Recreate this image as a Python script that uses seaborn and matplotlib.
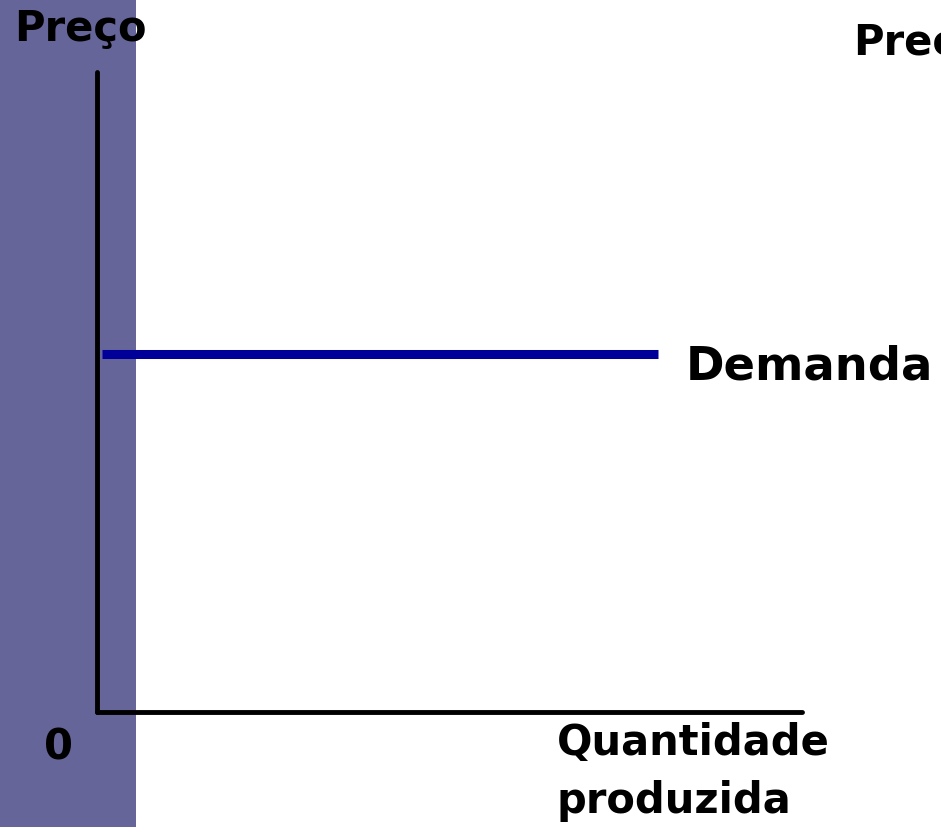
import matplotlib
matplotlib.use("Agg")
import matplotlib.pyplot as plt
from matplotlib.patches import Rectangle
import seaborn as sns
import pandas as pd

# demand curve: perfectly elastic (horizontal) at one price level
quantity = [0.07, 7.96]
price = [5.6, 5.6]
x_max, y_max = 10, 10

band_color = "#65659a"
demand_color = "#000099"

sns.set_theme(style="white")
plt.rcParams["font.family"] = ["DejaVu Sans"]

W, H = 941, 827
fig = plt.figure(figsize=(W / 100, H / 100), dpi=100)
fig.patch.set_facecolor("white")

# purple band on the left edge of the slide
fig.add_artist(Rectangle((0, 0), 136 / W, 1, transform=fig.transFigure,
                         facecolor=band_color, edgecolor="none", zorder=0))

ax = fig.add_axes([97 / W, 1 - 712 / H, 705 / W, 640 / H])
ax.patch.set_alpha(0)
df = pd.DataFrame({"q": quantity, "p": price})
sns.lineplot(data=df, x="q", y="p", ax=ax, color=demand_color, linewidth=6.5,
             solid_capstyle="butt")
ax.set_xlim(0, x_max)
ax.set_ylim(0, y_max)
ax.set_xticks([])
ax.set_yticks([])
ax.set_xlabel("")
ax.set_ylabel("")
for side in ["top", "right"]:
    ax.spines[side].set_visible(False)
for side in ["left", "bottom"]:
    ax.spines[side].set_color("black")
    ax.spines[side].set_linewidth(3.5)
    ax.spines[side].set_capstyle("round")


def label(x, y, s, size=30):
    fig.text(x / W, 1 - y / H, s, ha="left", va="top", fontsize=size,
             fontweight="bold", color="black")


label(14, 8, "Preço")
label(853, 22, "Preço")  # runs off the right edge, as on the slide
label(686, 345, "Demanda", 33.5)
label(44, 727, "0")
label(557, 722, "Quantidade")
label(557, 780, "produzida")

fig.savefig("out.png", dpi=100)
